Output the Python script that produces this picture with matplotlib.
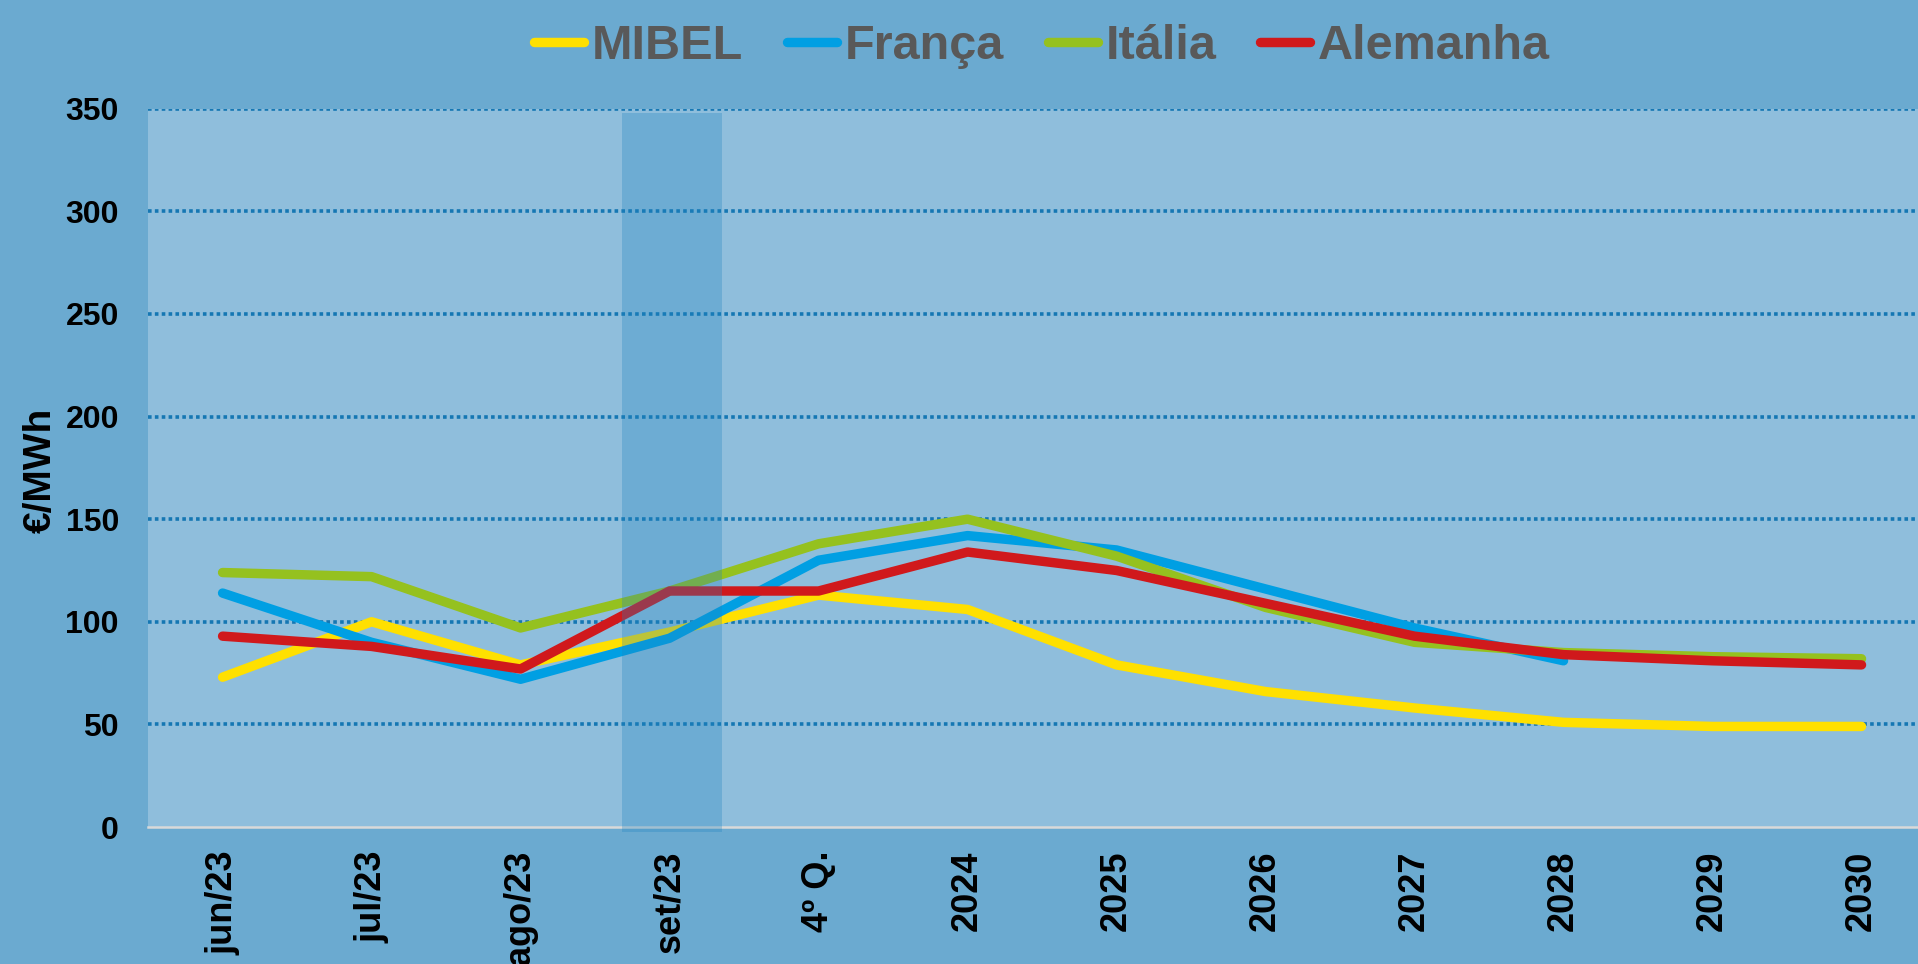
import numpy as np
import matplotlib.pyplot as plt
from matplotlib.patches import Rectangle

plt.rcParams['font.family'] = ['Liberation Sans', 'DejaVu Sans']
plt.rcParams['font.weight'] = 'bold'

categories = ['jun/23', 'jul/23', 'ago/23', 'set/23', '4º Q.', '2024', '2025',
              '2026', '2027', '2028', '2029', '2030']
mibel = [73, 100, 79, 95, 113, 106, 79, 66, 58, 51, 49, 49]
franca = [114, 90, 72, 92, 130, 142, 135, 116, 97, 81, np.nan, np.nan]
italia = [124, 122, 97, 115, 138, 150, 132, 107, 90, 85, 83, 82]
alemanha = [93, 88, 77, 115, 115, 134, 125, 109, 93, 84, 81, 79]
highlight = 'set/23'

series = [('MIBEL', mibel, '#FFE000'),
          ('França', franca, '#009FE3'),
          ('Itália', italia, '#95C11F'),
          ('Alemanha', alemanha, '#D0191C')]

fig = plt.figure(figsize=(19.18, 9.64), dpi=100)
fig.patch.set_facecolor('#6BAAD0')
ax = fig.add_axes([0.0772, 0.1421, 0.9322, 0.7451])
ax.set_facecolor('#8FBEDC')

x = np.arange(len(categories))
for name, vals, col in series:
    ax.plot(x, vals, color=col, lw=6.8, label=name,
            solid_capstyle='round', zorder=3)

# shaded month
hx = categories.index(highlight)
ax.add_patch(Rectangle((hx - 0.32, -2.3), 0.67, 350.3, facecolor='#2185C1',
                       alpha=0.3, edgecolor='none', zorder=4, clip_on=False))

ax.set_xlim(-0.5, len(categories) - 0.5)
ax.set_ylim(0, 350)
ax.set_yticks(np.arange(0, 351, 50))
ax.set_xticks(x)
ax.set_xticklabels(categories, rotation=90)
ax.tick_params(axis='y', length=0, pad=21, labelsize=23)
ax.tick_params(axis='x', length=0, pad=17, labelsize=26)

for v in np.arange(50, 351, 50):
    ax.axhline(v, color='#1577B3', lw=2.6, ls=(0, (1, 0.9)), zorder=1)

for s in ['top', 'right', 'left']:
    ax.spines[s].set_visible(False)
ax.spines['bottom'].set_color('#D9D9D9')
ax.spines['bottom'].set_linewidth(1.8)

fig.text(41 / 1918, 1 - 470 / 964, '€/MWh', rotation=90, ha='center',
         va='center', fontsize=28, fontweight='bold')

leg = ax.legend(loc='center', bbox_to_anchor=(0.5, 1.086), ncol=4,
                frameon=False, fontsize=35, handlelength=1.03,
                handletextpad=0.16, columnspacing=0.9)
for t in leg.get_texts():
    t.set_color('#595959')

fig.savefig('out.png', dpi=100, facecolor=fig.get_facecolor())
